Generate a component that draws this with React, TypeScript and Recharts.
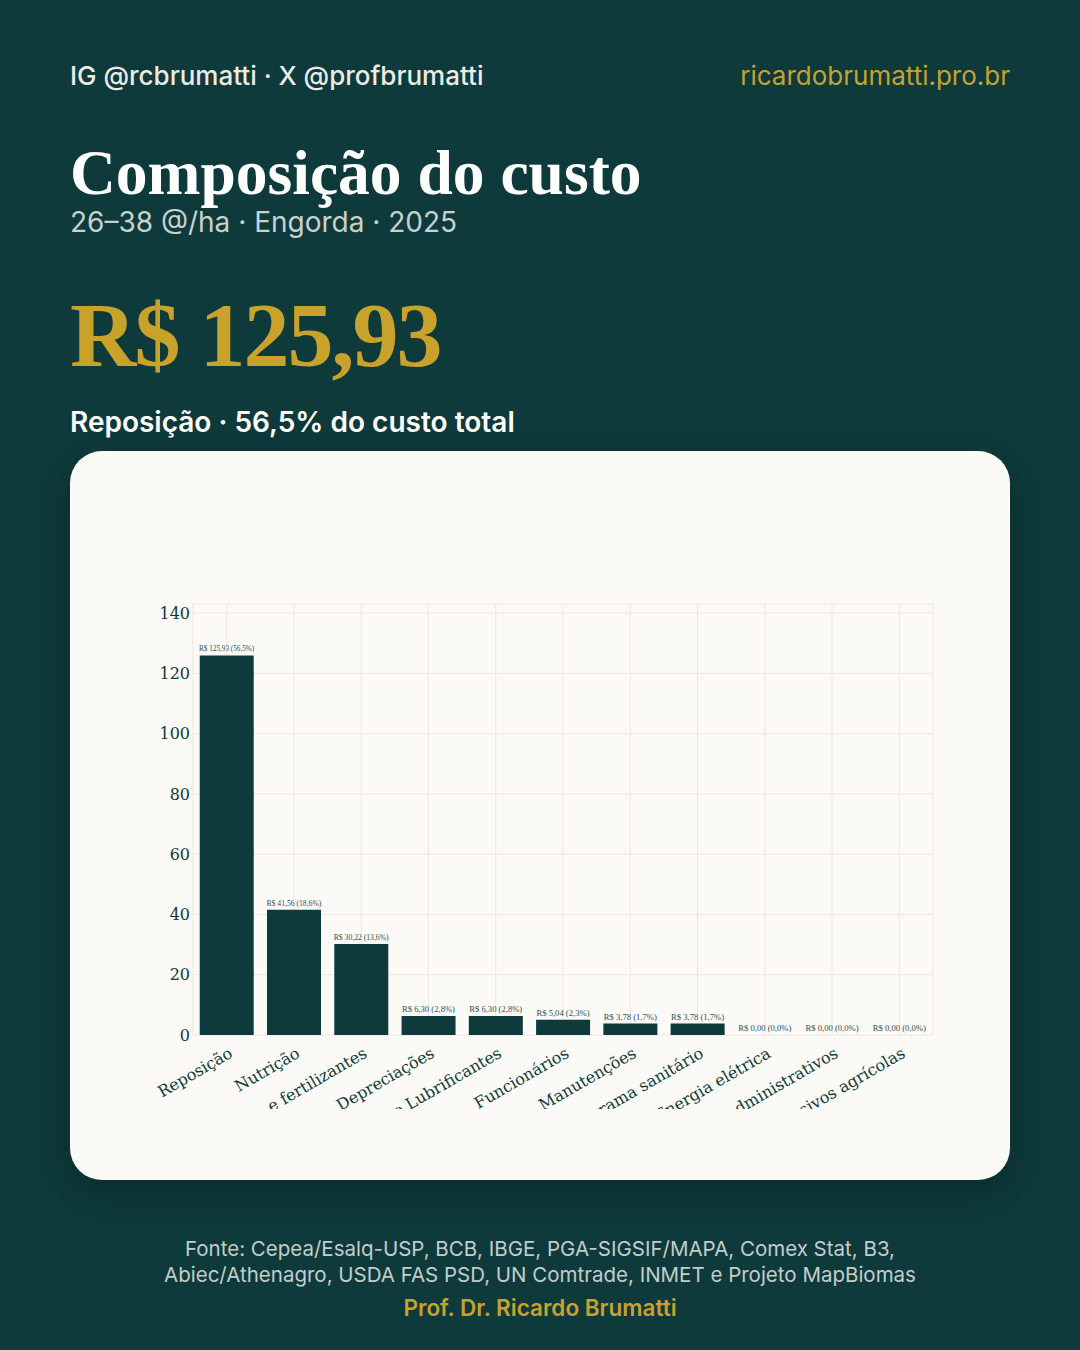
import { ComposedChart, Bar, Line, XAxis, YAxis, CartesianGrid, LabelList } from 'recharts'

const categories = [
  'Reposição',
  'Nutrição',
  'Corretivos e fertilizantes',
  'Depreciações',
  'Combustíveis e Lubrificantes',
  'Funcionários',
  'Manutenções',
  'Programa sanitário',
  'Energia elétrica',
  'Custos administrativos',
  'Defensivos agrícolas',
]
const costs = [125.93, 41.56, 30.22, 6.3, 6.3, 5.04, 3.78, 3.78, 0, 0, 0]
const shares = [56.5, 18.6, 13.6, 2.8, 2.8, 2.3, 1.7, 1.7, 0, 0, 0]
const yTicks = [0, 20, 40, 60, 80, 100, 120, 140]

const br = (n: number, d: number) => n.toFixed(d).replace('.', ',')

const data = categories.map((name, i) => ({
  name,
  cost: costs[i],
  label: `R$ ${br(costs[i], 2)} (${br(shares[i], 1)}%)`,
}))

const BG = '#0e3a3b'
const INK = '#0f3a3a'
const GOLD = '#c9a22b'
const SERIF = '"Liberation Serif", "DejaVu Serif", serif'
const AXIS_SERIF = '"DejaVu Serif", serif'
const SANS = 'Inter, "Noto Sans", sans-serif'

const XTick = (props: any) => {
  const { x, y, payload } = props
  return (
    <g transform={`translate(${x + 1},${y + 3})`}>
      <text
        textAnchor="end"
        transform="rotate(-30)"
        dy={12}
        fontSize={16}
        fontFamily={AXIS_SERIF}
        fill={INK}
      >
        {payload.value}
      </text>
    </g>
  )
}

// value labels sit on an invisible line so the zero bars get one too;
// font shrinks to fit the bar width like the original
const BarLabel = (props: any) => {
  const { x, y, value } = props
  const size = Math.min(8.6, 54 / (0.44 * String(value).length))
  return (
    <text
      x={Number(x)}
      y={Number(y) - 4}
      textAnchor="middle"
      fontSize={size}
      fontFamily={SERIF}
      fill="#2f4f4f"
    >
      {value}
    </text>
  )
}

const abs = (top: number, left: number, extra: any = {}) => ({
  position: 'absolute' as const,
  top,
  left,
  lineHeight: 1,
  whiteSpace: 'nowrap' as const,
  margin: 0,
  ...extra,
})

export default function App() {
  return (
    <div
      style={{
        position: 'absolute',
        top: 0,
        left: 0,
        width: 1080,
        height: 1350,
        background: BG,
        overflow: 'hidden',
        fontFamily: SANS,
      }}
    >
      <div style={abs(63, 70, { fontSize: 26, fontWeight: 500, color: '#ecebe4' })}>
        IG @rcbrumatti · X @profbrumatti
      </div>
      <div style={abs(63, 0, { left: 'auto', right: 70, fontSize: 26, color: GOLD })}>
        ricardobrumatti.pro.br
      </div>
      <div
        style={abs(141, 70, {
          fontFamily: SERIF,
          fontSize: 63.5,
          fontWeight: 700,
          color: '#ffffff',
        })}
      >
        Composição do custo
      </div>
      <div style={abs(208, 70, { fontSize: 28, color: '#c9d1cd' })}>
        26–38 @/ha · Engorda · 2025
      </div>
      <div
        style={abs(289, 70, {
          fontFamily: SERIF,
          fontSize: 92,
          fontWeight: 700,
          letterSpacing: -2,
          color: GOLD,
        })}
      >
        R$ 125,93
      </div>
      <div style={abs(408, 70, { fontSize: 28, fontWeight: 600, color: '#ffffff' })}>
        Reposição · 56,5% do custo total
      </div>

      <div
        style={{
          position: 'absolute',
          left: 70,
          top: 451,
          width: 940,
          height: 729,
          borderRadius: 32,
          background: '#fbfaf6',
          boxShadow: '0 12px 40px rgba(0,0,0,0.28)',
        }}
      />

      <div style={{ position: 'absolute', left: 70, top: 560 }}>
        <ComposedChart
          width={940}
          height={549}
          data={data}
          barCategoryGap="10%"
          margin={{ top: 44, right: 77, bottom: 0, left: 63 }}
        >
          <CartesianGrid stroke="#ebe8df" strokeWidth={1} />
          <XAxis
            dataKey="name"
            interval={0}
            tickLine={false}
            axisLine={false}
            height={74}
            tick={<XTick />}
          />
          <YAxis
            domain={[0, 143]}
            ticks={yTicks}
            width={60}
            tickLine={false}
            axisLine={false}
            tickSize={0}
            tickMargin={3}
            tick={{ fontSize: 16, fontFamily: AXIS_SERIF, fill: INK }}
          />
          <Bar dataKey="cost" fill="#0f3a3b" isAnimationActive={false} />
          <Line
            dataKey="cost"
            stroke="none"
            dot={false}
            activeDot={false}
            legendType="none"
            isAnimationActive={false}
          >
            <LabelList dataKey="label" content={<BarLabel />} />
          </Line>
        </ComposedChart>
      </div>

      <div
        style={{
          position: 'absolute',
          top: 1236,
          left: 0,
          width: 1080,
          textAlign: 'center',
          fontSize: 20.5,
          lineHeight: '26px',
          color: '#c3cdca',
        }}
      >
        Fonte: Cepea/Esalq-USP, BCB, IBGE, PGA-SIGSIF/MAPA, Comex Stat, B3,
        <br />
        Abiec/Athenagro, USDA FAS PSD, UN Comtrade, INMET e Projeto MapBiomas
      </div>
      <div
        style={{
          position: 'absolute',
          top: 1297,
          left: 0,
          width: 1080,
          textAlign: 'center',
          fontSize: 22.5,
          fontWeight: 600,
          lineHeight: 1,
          color: GOLD,
        }}
      >
        Prof. Dr. Ricardo Brumatti
      </div>
    </div>
  )
}
